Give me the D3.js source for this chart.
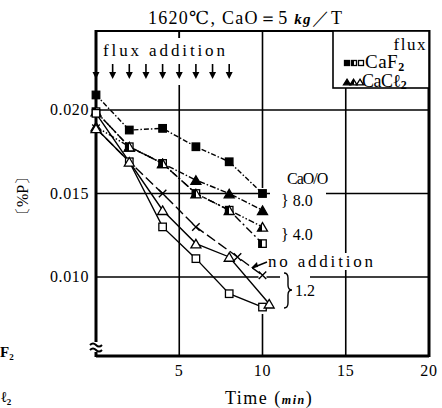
<!DOCTYPE html>
<html>
<head>
<meta charset="utf-8" />
<title>Dephosphorization vs time</title>
<script src="https://cdn.jsdelivr.net/npm/d3@7"></script>
<style>
  body { margin: 0; background: #fff; }
  text { font-family: "Liberation Serif", "DejaVu Serif", serif; fill: #000; }
</style>
</head>
<body>
<script>
// values, Time (min) vs [%P]
var times        = [0, 2, 4, 6, 8, 10];
var timesNoAdd   = [0, 2, 4, 6, 8.5, 10];
var timesCl12    = [0, 2, 4, 6, 8, 10.4];

var caf2_80   = [0.0209, 0.0188, 0.0189, 0.0178, 0.0169, 0.0150];
var cacl2_80  = [0.0199, 0.0178, 0.0168, 0.0158, 0.0150, 0.0140];
var caf2_40   = [0.0199, 0.0178, 0.0168, 0.0150, 0.0140, 0.0120];
var cacl2_40  = [0.0190, 0.0178, 0.0168, 0.0150, 0.0140, 0.0130];
var noAdd     = [0.0189, 0.0169, 0.0150, 0.0130, 0.0112, 0.0101];
var caf2_12   = [0.0198, 0.0169, 0.0130, 0.0111, 0.0090, 0.0082];
var cacl2_12  = [0.0189, 0.0169, 0.0140, 0.0120, 0.0112, 0.0084];

var additionTimes = [0, 1, 2, 3, 4, 5, 6, 7, 8];
var xTicks = [5, 10, 15, 20];
var yTicks = [0.010, 0.015, 0.020];

var W = 442, H = 408;
var svg = d3.select("body").append("svg").attr("width", W).attr("height", H);

var defs = svg.append("defs");
var grad = defs.append("linearGradient").attr("id", "half");
grad.append("stop").attr("offset", "50%").attr("stop-color", "#000");
grad.append("stop").attr("offset", "50%").attr("stop-color", "#fff");

var x = d3.scaleLinear().domain([0, 20]).range([96, 429]);
var y = d3.scaleLinear().domain([0.00527, 0.02473]).range([356, 31]);

// grid
svg.selectAll(".vg").data([5, 10, 15]).enter().append("line")
  .attr("x1", function(d) { return x(d); }).attr("x2", function(d) { return x(d); })
  .attr("y1", y.range()[1]).attr("y2", y.range()[0])
  .attr("stroke", "#000").attr("stroke-width", 1.6);
svg.selectAll(".hg").data(yTicks).enter().append("line")
  .attr("x1", x(0)).attr("x2", x(20))
  .attr("y1", function(d) { return y(d); }).attr("y2", function(d) { return y(d); })
  .attr("stroke", "#000").attr("stroke-width", 1.6);

// knock-outs where the original grid is broken
function knock(x0, y0, w, h) {
  svg.append("rect").attr("x", x0).attr("y", y0).attr("width", w).attr("height", h).attr("fill", "#fff");
}
knock(98, 38, 140, 47);
knock(x(10) - 4, 188, 8, 126);
knock(270, 170, 56, 36);
knock(282, 224, 30, 22);
knock(266, 253, 108, 17);
knock(280, 270, 30, 42);

// top tick at x = 5
svg.append("line").attr("x1", x(5)).attr("x2", x(5)).attr("y1", 31).attr("y2", 38)
  .attr("stroke", "#000").attr("stroke-width", 1.6);

// frame
svg.append("line").attr("x1", x(0)).attr("x2", x(20)).attr("y1", 31).attr("y2", 31)
  .attr("stroke", "#000").attr("stroke-width", 2);
svg.append("line").attr("x1", x(0)).attr("x2", x(20)).attr("y1", 356).attr("y2", 356)
  .attr("stroke", "#000").attr("stroke-width", 3);
svg.append("line").attr("x1", x(20)).attr("x2", x(20)).attr("y1", 30).attr("y2", 357)
  .attr("stroke", "#000").attr("stroke-width", 3);
svg.append("line").attr("x1", x(0)).attr("x2", x(0)).attr("y1", 30).attr("y2", 357)
  .attr("stroke", "#000").attr("stroke-width", 3);

// axis break
knock(90, 342, 12, 10);
svg.append("path").attr("d", "M90,345 q3,-3 6,0 t6,0 M90,350 q3,-3 6,0 t6,0")
  .attr("fill", "none").attr("stroke", "#000").attr("stroke-width", 2);

// tick labels
svg.selectAll(".yl").data(yTicks).enter().append("text")
  .attr("x", 89).attr("y", function(d) { return y(d) + 5; })
  .attr("text-anchor", "end").attr("font-size", 16).attr("letter-spacing", 0.6)
  .text(function(d) { return d3.format(".3f")(d); });
svg.selectAll(".xl").data(xTicks).enter().append("text")
  .attr("x", function(d) { return x(d); }).attr("y", 376)
  .attr("text-anchor", "middle").attr("font-size", 16).attr("letter-spacing", 0.8)
  .text(function(d) { return d; });

// axis titles
var xt = svg.append("text").attr("x", 225).attr("y", 404).attr("font-size", 18).attr("letter-spacing", 1.5);
xt.append("tspan").text("Time  (");
xt.append("tspan").attr("font-weight", "bold").attr("font-style", "italic").attr("font-size", 12).text("min");
xt.append("tspan").text(")");
svg.append("text").attr("transform", "translate(28,196) rotate(-90)")
  .attr("text-anchor", "middle").attr("font-size", 16)
  .text("〔%P〕");

// title
var tt = svg.append("text").attr("x", 148).attr("y", 24).attr("font-size", 18)
  .attr("textLength", 194).attr("lengthAdjust", "spacing");
tt.append("tspan").text("1620℃, CaO＝5 ");
tt.append("tspan").attr("font-style", "italic").attr("font-weight", "bold").attr("font-size", 15).text("kg");
tt.append("tspan").text("／T");

// flux addition + arrows
svg.append("text").attr("x", 103).attr("y", 56).attr("font-size", 17)
  .attr("textLength", 122).attr("lengthAdjust", "spacing").text("flux addition");
var arr = svg.selectAll(".arr").data(additionTimes).enter().append("g");
arr.append("line")
  .attr("x1", function(d) { return x(d); }).attr("x2", function(d) { return x(d); })
  .attr("y1", 64).attr("y2", 75)
  .attr("stroke", "#000").attr("stroke-width", 1.6);
arr.append("path")
  .attr("d", function(d) { var px = x(d); return "M" + (px - 3.5) + ",72 L" + (px + 3.5) + ",72 L" + px + ",79 Z"; })
  .attr("fill", "#000");

// series
var series = [
  { t: times,      v: caf2_80,  m: "sq",  f: "#000",       dash: "5,2,1.5,2" },
  { t: times,      v: cacl2_80, m: "tri", f: "#000",       dash: "6,2,1.5,2" },
  { t: times,      v: caf2_40,  m: "sq",  f: "url(#half)", dash: "8,3,2,3" },
  { t: times,      v: cacl2_40, m: "tri", f: "url(#half)", dash: "6,2,1.5,2,1.5,2" },
  { t: timesNoAdd, v: noAdd,    m: "x",   f: "none",       dash: "10,4" },
  { t: times,      v: caf2_12,  m: "sq",  f: "#fff",       dash: null },
  { t: timesCl12,  v: cacl2_12, m: "tri", f: "#fff",       dash: null }
];

var line = d3.line().x(function(d) { return x(d[0]); }).y(function(d) { return y(d[1]); });

series.forEach(function(s) {
  var pts = s.t.map(function(t, i) { return [t, s.v[i]]; });
  svg.append("path").datum(pts).attr("d", line)
    .attr("fill", "none").attr("stroke", "#000").attr("stroke-width", 1.4)
    .attr("stroke-dasharray", s.dash);
});

function marker(g, type, fill, px, py, sz) {
  if (type === "sq") {
    g.append("rect").attr("x", px - sz / 2).attr("y", py - sz / 2).attr("width", sz).attr("height", sz)
      .attr("fill", fill).attr("stroke", "#000").attr("stroke-width", 1.3);
  } else if (type === "tri") {
    var h = sz * 0.95;
    g.append("path")
      .attr("d", "M" + px + "," + (py - h / 2) + "L" + (px + sz / 2 + 0.5) + "," + (py + h / 2) + "L" + (px - sz / 2 - 0.5) + "," + (py + h / 2) + "Z")
      .attr("fill", fill).attr("stroke", "#000").attr("stroke-width", 1.3);
  } else {
    var r = sz / 2;
    g.append("path").attr("d", "M" + (px - r) + "," + (py - r) + "L" + (px + r) + "," + (py + r) + "M" + (px + r) + "," + (py - r) + "L" + (px - r) + "," + (py + r))
      .attr("stroke", "#000").attr("stroke-width", 1.4);
  }
}

var mg = svg.append("g");
series.forEach(function(s) {
  s.t.forEach(function(t, i) {
    marker(mg, s.m, s.f, x(t), y(s.v[i]), s.m === "tri" ? 9 : 7.5);
  });
});

// legend box
svg.append("rect").attr("x", 333).attr("y", 31).attr("width", 96).attr("height", 57)
  .attr("fill", "#fff").attr("stroke", "#000").attr("stroke-width", 1.6);
svg.append("text").attr("x", 427).attr("y", 50).attr("text-anchor", "end").attr("font-size", 17)
  .attr("letter-spacing", 1.5).text("flux");
var lg = svg.append("g");
[["sq", "#000"], ["sq", "url(#half)"], ["sq", "#fff"]].forEach(function(d, i) {
  marker(lg, d[0], d[1], 347 + i * 7, 63, 5);
});
[["tri", "#000"], ["tri", "url(#half)"], ["tri", "#fff"]].forEach(function(d, i) {
  marker(lg, d[0], d[1], 347 + i * 6.5, 82, 6);
});
var l1 = svg.append("text").attr("x", 365).attr("y", 68).attr("font-size", 19).attr("letter-spacing", 0.5);
l1.append("tspan").text("CaF");
l1.append("tspan").attr("font-size", 12).attr("dy", 3).attr("font-weight", "bold").text("2");
var l2 = svg.append("text").attr("x", 362).attr("y", 87).attr("font-size", 18).attr("letter-spacing", -0.5);
l2.append("tspan").text("CaCℓ");
l2.append("tspan").attr("font-size", 12).attr("dy", 2).attr("font-weight", "bold").text("2");

// CaO/O annotations
svg.append("text").attr("x", 287).attr("y", 184).attr("font-size", 16).attr("letter-spacing", -1).text("CaO/O");
svg.append("text").attr("x", 281).attr("y", 206).attr("font-size", 16).text("} 8.0");
svg.append("text").attr("x", 281).attr("y", 240).attr("font-size", 16).text("} 4.0");
svg.append("text").attr("x", 268).attr("y", 267).attr("font-size", 17)
  .attr("textLength", 105).attr("lengthAdjust", "spacing").text("no addition");
svg.append("path").attr("d", "M267,262 L252,268").attr("stroke", "#000").attr("stroke-width", 1.4);
svg.append("path").attr("d", "M251,268 l6,-6 l1,5 Z").attr("fill", "#000");
svg.append("path").attr("d", "M284,273 q4,0 4,5 v7 q0,5 4,5 q-4,0 -4,5 v8 q0,5 -4,5")
  .attr("fill", "none").attr("stroke", "#000").attr("stroke-width", 1.4);
svg.append("text").attr("x", 295).attr("y", 296).attr("font-size", 16).text("1.2");

// fragments of the neighbouring figure at the left edge
svg.append("text").attr("x", 0).attr("y", 357).attr("font-size", 15).attr("font-weight", "bold").text("F₂");
svg.append("text").attr("x", 1).attr("y", 402).attr("font-size", 15).attr("font-weight", "bold").text("ℓ₂");
</script>
</body>
</html>
